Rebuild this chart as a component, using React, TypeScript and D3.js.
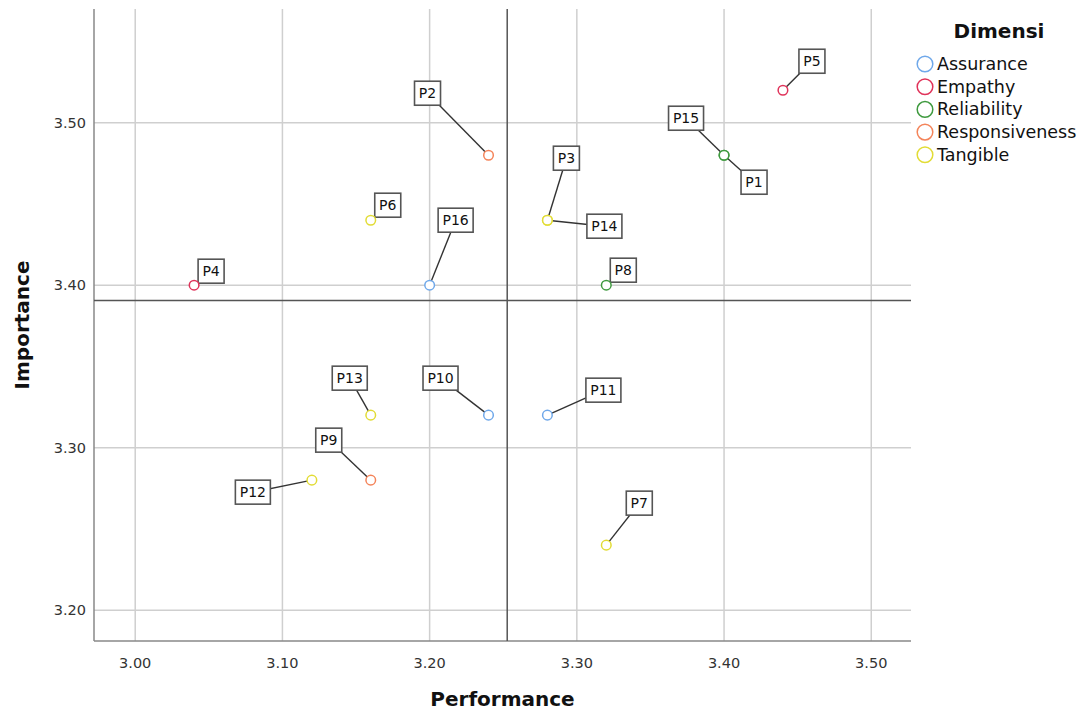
import { scaleLinear } from "d3";

const pointIds = ["P1", "P2", "P3", "P4", "P5", "P6", "P7", "P8", "P9", "P10", "P11", "P12", "P13", "P14", "P15", "P16"];
const performance = [3.4, 3.24, 3.28, 3.04, 3.44, 3.16, 3.32, 3.32, 3.16, 3.24, 3.28, 3.12, 3.16, 3.28, 3.4, 3.2];
const importance = [3.48, 3.48, 3.44, 3.4, 3.52, 3.44, 3.24, 3.4, 3.28, 3.32, 3.32, 3.28, 3.32, 3.44, 3.48, 3.4];
const dimension = [
  "Reliability", "Responsiveness", "Tangible", "Empathy", "Empathy", "Tangible", "Tangible", "Reliability",
  "Responsiveness", "Assurance", "Assurance", "Tangible", "Tangible", "Tangible", "Reliability", "Assurance"
];

const dimensions = ["Assurance", "Empathy", "Reliability", "Responsiveness", "Tangible"];
const dimensionColors = ["#6fa8ea", "#e0335a", "#3f9a3f", "#f4845a", "#e2dc35"];

const xTicks = [3.0, 3.1, 3.2, 3.3, 3.4, 3.5];
const yTicks = [3.2, 3.3, 3.4, 3.5];

// mean reference lines
const meanPerformance = 3.2527;
const meanImportance = 3.3906;

// label offsets in px from each point (layout only)
const labelOffsets: [number, number][] = [
  [30, 27], [-61, -62], [19, -62], [17, -14], [29, -29], [17, -15], [33, -42], [17, -15],
  [-42, -40], [-48, -37], [56, -25], [-59, 12], [-21, -37], [57, 6], [-38, -37], [26, -65]
];

export default function App() {
  const width = 1086;
  const height = 711;
  const plot = { left: 94, right: 911, top: 9, bottom: 641 };

  const x = scaleLinear().domain([2.972, 3.527]).range([plot.left, plot.right]);
  const y = scaleLinear().domain([3.181, 3.570]).range([plot.bottom, plot.top]);
  const colorOf = (d: string) => dimensionColors[dimensions.indexOf(d)];
  const font = "'DejaVu Sans', sans-serif";

  return (
    <svg width={width} height={height} style={{ position: "absolute", left: 0, top: 0, background: "#fff" }} fontFamily={font}>
      {xTicks.map((t) => (
        <g key={`x${t}`}>
          <line x1={x(t)} x2={x(t)} y1={plot.top} y2={plot.bottom} stroke="#cfcfcf" strokeWidth={1.5} />
          <text x={x(t)} y={plot.bottom + 27} textAnchor="middle" fontSize={14.5} fill="#333">
            {t.toFixed(2)}
          </text>
        </g>
      ))}
      {yTicks.map((t) => (
        <g key={`y${t}`}>
          <line x1={plot.left} x2={plot.right} y1={y(t)} y2={y(t)} stroke="#cfcfcf" strokeWidth={1.5} />
          <text x={86} y={y(t) + 5} textAnchor="end" fontSize={14.5} fill="#333">
            {t.toFixed(2)}
          </text>
        </g>
      ))}

      <line x1={plot.left} x2={plot.left} y1={plot.top} y2={plot.bottom} stroke="#888" strokeWidth={1.5} />
      <line x1={plot.left} x2={plot.right} y1={plot.bottom} y2={plot.bottom} stroke="#888" strokeWidth={1.5} />

      <line x1={x(meanPerformance)} x2={x(meanPerformance)} y1={plot.top} y2={plot.bottom} stroke="#555" strokeWidth={1.5} />
      <line x1={plot.left} x2={plot.right} y1={y(meanImportance)} y2={y(meanImportance)} stroke="#555" strokeWidth={1.5} />

      {pointIds.map((id, i) => {
        const px = x(performance[i]);
        const py = y(importance[i]);
        const lx = px + labelOffsets[i][0];
        const ly = py + labelOffsets[i][1];
        return <line key={`l${id}`} x1={px} y1={py} x2={lx} y2={ly} stroke="#333" strokeWidth={1.4} />;
      })}
      {pointIds.map((id, i) => {
        const px = x(performance[i]);
        const py = y(importance[i]);
        const lx = px + labelOffsets[i][0];
        const ly = py + labelOffsets[i][1];
        const w = id.length * 9 + 8;
        const h = 24;
        return (
          <g key={`b${id}`}>
            <rect x={lx - w / 2} y={ly - h / 2} width={w} height={h} fill="#fff" stroke="#555" strokeWidth={1.6} />
            <text x={lx} y={ly + 5} textAnchor="middle" fontSize={14} fill="#111">
              {id}
            </text>
          </g>
        );
      })}
      {pointIds.map((id, i) => (
        <circle
          key={`p${id}`}
          cx={x(performance[i])}
          cy={y(importance[i])}
          r={4.8}
          fill="#fff"
          stroke={colorOf(dimension[i])}
          strokeWidth={1.5}
        />
      ))}

      <text x={(plot.left + plot.right) / 2} y={706} textAnchor="middle" fontSize={20} fontWeight="bold" fill="#111">
        Performance
      </text>
      <text
        transform={`translate(29, ${(plot.top + plot.bottom) / 2}) rotate(-90)`}
        textAnchor="middle"
        fontSize={20}
        fontWeight="bold"
        fill="#111"
      >
        Importance
      </text>

      <text x={999} y={38} textAnchor="middle" fontSize={20} fontWeight="bold" fill="#111">
        Dimensi
      </text>
      {dimensions.map((d, i) => (
        <g key={d} transform={`translate(925, ${64 + i * 22.7})`}>
          <circle r={7.8} fill="#fff" stroke={dimensionColors[i]} strokeWidth={1.5} />
          <text x={12} y={6} fontSize={17.5} fill="#111">
            {d}
          </text>
        </g>
      ))}
    </svg>
  );
}
